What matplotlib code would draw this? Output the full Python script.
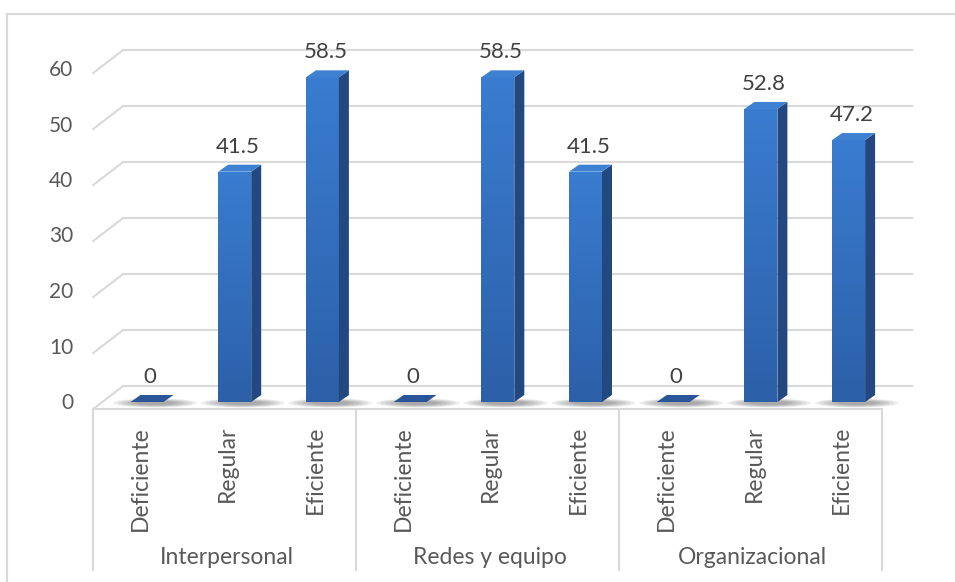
import matplotlib.pyplot as plt
import numpy as np
from matplotlib.patches import Polygon, Ellipse
from matplotlib.lines import Line2D

plt.rcParams['font.family'] = ['Lato', 'DejaVu Sans']

groups = ["Interpersonal", "Redes y equipo", "Organizacional"]
levels = ["Deficiente", "Regular", "Eficiente"]
values = [0, 41.5, 58.5, 0, 58.5, 41.5, 0, 52.8, 47.2]
yticks = [0, 10, 20, 30, 40, 50, 60]

W, H = 955, 582
fig = plt.figure(figsize=(W / 100, H / 100), dpi=100)
ax = fig.add_axes([103.15 / W, 180 / H, 789.3 / W, 333 / H])
ax.set_axis_off()

PX = 789.3 / 9      # pixels per category
PY = 333 / 60       # pixels per unit
grid_c = "#d9d9d9"
text_c = "#595959"
bw = 33 / PX
ddx, ddy = 10 / PX, 7 / PY

# outer border (cut by the image edge)
fig.add_artist(Line2D([7 / W, 7 / W], [0, 1 - 14 / H], color=grid_c, lw=1.5))
fig.add_artist(Line2D([7 / W, 1], [1 - 14 / H, 1 - 14 / H], color=grid_c, lw=1.5))

# back wall + side wall gridlines
for v in yticks:
    back = v + (16 + 3 * v / 60) / PY
    front = v - (7 - 3 * v / 60) / PY
    ax.plot([-0.5 + 20 / PX, 8.5 + 20 / PX], [back, back], color=grid_c, lw=1.5,
            clip_on=False, zorder=1)
    ax.plot([-0.5 - 10 / PX, -0.5 + 20 / PX], [front, back], color=grid_c, lw=1.5,
            clip_on=False, zorder=1)

# floor front edge and category box
ax.plot([-0.5 - 10 / PX, 8.5 - 12 / PX], [-7 / PY, -7 / PY], color=grid_c, lw=1.5,
        clip_on=False, zorder=1)
for g in [-0.5, 2.5, 5.5, 8.5]:
    ax.plot([g - 10 / PX, g - 10 / PX], [-7 / PY, -168 / PY], color=grid_c, lw=1.5,
            clip_on=False, zorder=1)

# y tick labels
for v in yticks:
    ax.annotate(str(v), (-0.5, v), xytext=(-30, -1), textcoords="offset pixels",
                ha="right", va="center", fontsize=15, color=text_c)

xs = np.arange(len(values))

# shadows on the floor
for x in xs:
    for k in range(6):
        ax.add_patch(Ellipse((x + 8 / PX, -1 / PY), (84 - 9 * k) / PX, (9 - k) / PY,
                             color="#404040", alpha=0.09, lw=0, zorder=2, clip_on=False))

# gradient for the front faces
top_c = np.array([58, 124, 208]) / 255
bot_c = np.array([44, 96, 168]) / 255
t = np.linspace(0, 1, 100)[:, None]
grad = (top_c[None, :] * (1 - t) + bot_c[None, :] * t)[:, None, :]
grad = np.repeat(grad, 2, axis=1)

bars = ax.bar(xs, values, width=bw, color="#3470c0", zorder=3, lw=0)
for x, v, b in zip(xs, values, bars):
    l, r = x - bw / 2, x + bw / 2
    if v > 0:
        im = ax.imshow(grad, extent=(l, r, 0, v), aspect="auto", zorder=3.1,
                       interpolation="bilinear")
        im.set_clip_path(b)
        ax.add_patch(Polygon([(r, 0), (r, v), (r + ddx, v + ddy), (r + ddx, ddy)],
                             closed=True, color="#22487f", lw=0, zorder=3.2))
        ax.add_patch(Polygon([(l, v), (r, v), (r + ddx, v + ddy), (l + ddx, v + ddy)],
                             closed=True, color="#3e80d2", lw=0, zorder=3.2))
    else:
        ax.add_patch(Polygon([(l, 0), (r, 0), (r + ddx, ddy), (l + ddx, ddy)],
                             closed=True, color="#2a5699", lw=0, zorder=3.2))
    ax.annotate(f"{v:g}", (x, v), xytext=(3, 25), textcoords="offset pixels",
                ha="center", va="center", fontsize=16, color="#404040", zorder=5)

# category labels
for i, x in enumerate(xs):
    ax.annotate(levels[i % 3], (x, 0), xytext=(-7, -24), textcoords="offset pixels",
                ha="center", va="top", rotation=90, fontsize=16.5, color=text_c)
for j, g in enumerate(groups):
    ax.annotate(g, (3 * j + 1, 0), xytext=(-8, -155), textcoords="offset pixels",
                ha="center", va="center", fontsize=16.5, color=text_c)

ax.set_xlim(-0.5, 8.5)
ax.set_ylim(0, 60)
fig.savefig("out.png", dpi=100)
